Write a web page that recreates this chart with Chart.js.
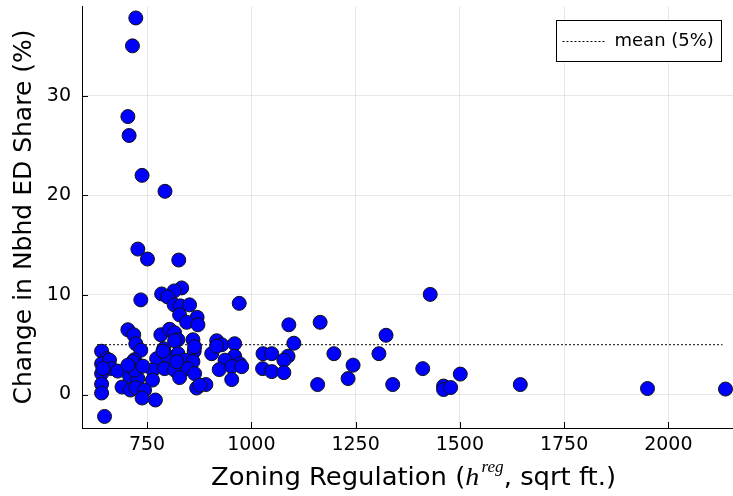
<!DOCTYPE html>
<html>
<head>
<meta charset="utf-8">
<script src="https://cdn.jsdelivr.net/npm/chart.js@4.4.1/dist/chart.umd.min.js"></script>
<style>
  html, body { margin: 0; padding: 0; background: #fff; }
  #wrap { width: 733px; height: 496px; }
</style>
</head>
<body>
<div id="wrap"><canvas id="chart" width="733" height="496"></canvas></div>
<script>
// Zoning regulation (sqrt ft.) per neighbourhood
const regulation = [
  723, 715, 704, 707, 738, 793, 728, 751, 826, 833, 815, 785, 799, 735,
  971, 815, 830, 852, 828, 870, 845, 872, 704, 718, 783, 804, 816, 824,
  860, 917, 929, 960, 723, 641, 735, 790, 863, 905, 960, 1028, 1049, 653,
  720, 773, 800, 824, 840, 860, 937, 972, 641, 660, 665, 680, 732, 764,
  792, 816, 848, 864, 923, 953, 977, 1027, 1049, 641, 708, 728, 763, 828,
  953, 641, 690, 710, 723, 744, 869, 891, 876, 641, 738, 770, 648, 788,
  821, 716, 720, 740, 704, 644, 816, 864, 917, 1090, 1165, 1102, 1088, 1078,
  1078, 1198, 1244, 1232, 1159, 1323, 1306, 1339, 1429, 1411, 1461, 1461, 1478, 1501,
  1645, 1950, 2137
];

// Change in neighbourhood ED share (%), same order as regulation
const edShareChange = [
  37.8, 35.0, 27.9, 26.0, 22.0, 20.4, 14.6, 13.6, 13.5, 10.7, 10.4, 10.1, 9.8, 9.5,
  9.15, 9.0, 8.9, 9.0, 8.0, 7.75, 7.25, 7.0, 6.5, 6.0, 6.0, 6.55, 6.2, 5.5,
  5.5, 5.4, 5.0, 5.1, 5.1, 4.35, 4.45, 4.6, 4.35, 4.1, 3.85, 4.1, 4.1, 3.6,
  3.5, 3.6, 3.8, 4.1, 3.45, 3.3, 3.45, 3.1, 3.1, 3.45, 2.6, 2.35, 2.85, 2.45,
  2.6, 2.45, 2.6, 2.1, 2.5, 2.8, 2.8, 2.6, 2.3, 2.1, 1.85, 1.6, 1.45, 1.7,
  1.5, 1.05, 0.75, 0.45, 0.7, 0.45, 0.65, 1.0, 0.95, 0.15, -0.35, -0.55, -2.2, 4.35,
  3.3, 3.3, 2.45, 2.85, 2.95, 2.6, 5.4, 4.8, 4.85, 7.0, 7.25, 5.15, 3.85, 3.45,
  2.2, 4.1, 2.95, 1.6, 1.0, 5.95, 4.1, 1.0, 10.05, 2.6, 0.85, 0.5, 0.7, 2.05,
  1.0, 0.6, 0.55
];

const xTicks = [750, 1000, 1250, 1500, 1750, 2000];
const yTicks = [0, 10, 20, 30];
const xRange = [594, 2155];
const yRange = [-3.36, 39.0];

// Mean reference line
const meanShare = 5;
const meanSpan = [630, 2130];
const meanLabel = 'mean (5%)';

const FONT = '"DejaVu Sans", Verdana, sans-serif';

/**
 * Short tick marks pointing into the plot, like the GR backend draws them
 */
const innerTicks = {
  id: 'innerTicks',
  afterDraw(chart) {
    const { ctx, chartArea: a, scales } = chart;
    ctx.save();
    ctx.strokeStyle = '#000';
    ctx.lineWidth = 1;
    ctx.beginPath();
    xTicks.forEach(v => {
      const px = Math.round(scales.x.getPixelForValue(v)) + 0.5;
      ctx.moveTo(px, a.bottom);
      ctx.lineTo(px, a.bottom - 6);
    });
    yTicks.forEach(v => {
      const py = Math.round(scales.y.getPixelForValue(v)) + 0.5;
      ctx.moveTo(a.left, py);
      ctx.lineTo(a.left + 6, py);
    });
    ctx.stroke();
    ctx.restore();
  }
};

/**
 * X axis title with the italic h and its "reg" superscript
 */
const xTitle = {
  id: 'xTitle',
  afterDraw(chart) {
    const { ctx } = chart;
    const parts = [
      { text: 'Zoning Regulation (', font: '24px ' + FONT, dy: 0 },
      { text: 'h', font: 'italic 26px "Liberation Serif", serif', dy: 0 },
      { text: 'reg', font: 'italic 16px "Liberation Serif", serif', dy: -13 },
      { text: ', sqrt ft.)', font: '24px ' + FONT, dy: 0 }
    ];
    const left = 211, targetWidth = 405;
    ctx.save();
    ctx.fillStyle = '#000';
    ctx.textBaseline = 'alphabetic';
    let total = 0;
    parts.forEach(p => {
      ctx.font = p.font;
      p.w = ctx.measureText(p.text).width + (p.text === 'h' ? 2 : 0);
      total += p.w;
    });
    // the reference face is a little wider than DejaVu, so stretch it
    const stretch = targetWidth / total;
    const base = chart.height - 11;
    ctx.translate(left, base);
    ctx.scale(stretch, 1);
    let x = 0;
    parts.forEach(p => {
      ctx.font = p.font;
      ctx.fillText(p.text, x, p.dy);
      x += p.w;
    });
    ctx.restore();
  }
};

/**
 * Boxed legend in the top right corner for the mean line
 */
const meanLegend = {
  id: 'meanLegend',
  afterDraw(chart) {
    const { ctx, chartArea: a } = chart;
    const box = { x: a.right - 176.5, y: a.top + 14.5, w: 165, h: 41 };
    ctx.save();
    ctx.fillStyle = '#fff';
    ctx.fillRect(box.x, box.y, box.w, box.h);
    ctx.strokeStyle = '#000';
    ctx.lineWidth = 1;
    ctx.strokeRect(box.x, box.y, box.w, box.h);
    const midY = Math.round(box.y + box.h / 2) + 0.5;
    ctx.setLineDash([2, 2]);
    ctx.beginPath();
    ctx.moveTo(box.x + 6, midY);
    ctx.lineTo(box.x + 50, midY);
    ctx.stroke();
    ctx.setLineDash([]);
    ctx.font = '18px ' + FONT;
    ctx.textBaseline = 'middle';
    ctx.fillStyle = '#000';
    ctx.fillText(meanLabel, box.x + 58, midY);
    ctx.restore();
  }
};

const points = regulation.map((x, i) => ({ x, y: edShareChange[i] }));
const meanLine = meanSpan.map(x => ({ x, y: meanShare }));

const noPadding = s => {
  s.paddingTop = 0;
  s.paddingBottom = 0;
  s.paddingLeft = 0;
  s.paddingRight = 0;
};

const axisCommon = {
  type: 'linear',
  grid: { color: 'rgba(0,0,0,0.09)', lineWidth: 1, drawTicks: false },
  border: { display: true, color: '#000', width: 1 },
  ticks: { color: '#000', font: { family: FONT, size: 19 }, callback: v => String(v) }
};

new Chart(document.getElementById('chart'), {
  type: 'scatter',
  data: {
    datasets: [
      {
        label: 'data',
        data: points,
        backgroundColor: '#0000ff',
        borderColor: '#111',
        borderWidth: 1,
        pointRadius: 7,
        pointHoverRadius: 7,
        clip: false
      },
      {
        type: 'line',
        label: meanLabel,
        data: meanLine,
        borderColor: '#000',
        borderWidth: 1,
        borderDash: [2, 2],
        pointRadius: 0,
        fill: false
      }
    ]
  },
  options: {
    responsive: false,
    animation: false,
    layout: { autoPadding: false, padding: { top: 6, right: 0, left: 0, bottom: 0 } },
    plugins: {
      legend: { display: false },
      tooltip: { enabled: false }
    },
    scales: {
      x: {
        ...axisCommon,
        min: xRange[0],
        max: xRange[1],
        ticks: { ...axisCommon.ticks, padding: 6, maxRotation: 0 },
        afterBuildTicks: s => { s.ticks = xTicks.map(value => ({ value })); },
        afterFit: s => { s.height = 68; noPadding(s); }
      },
      y: {
        ...axisCommon,
        min: yRange[0],
        max: yRange[1],
        ticks: { ...axisCommon.ticks, padding: 11 },
        afterBuildTicks: s => { s.ticks = yTicks.map(value => ({ value })); },
        afterFit: s => { s.width = 82; noPadding(s); },
        title: {
          display: true,
          text: 'Change in Nbhd ED Share (%)',
          color: '#000',
          font: { family: FONT, size: 25 },
          padding: { top: 9, bottom: 0 }
        }
      }
    }
  },
  plugins: [innerTicks, xTitle, meanLegend]
});
</script>
</body>
</html>
